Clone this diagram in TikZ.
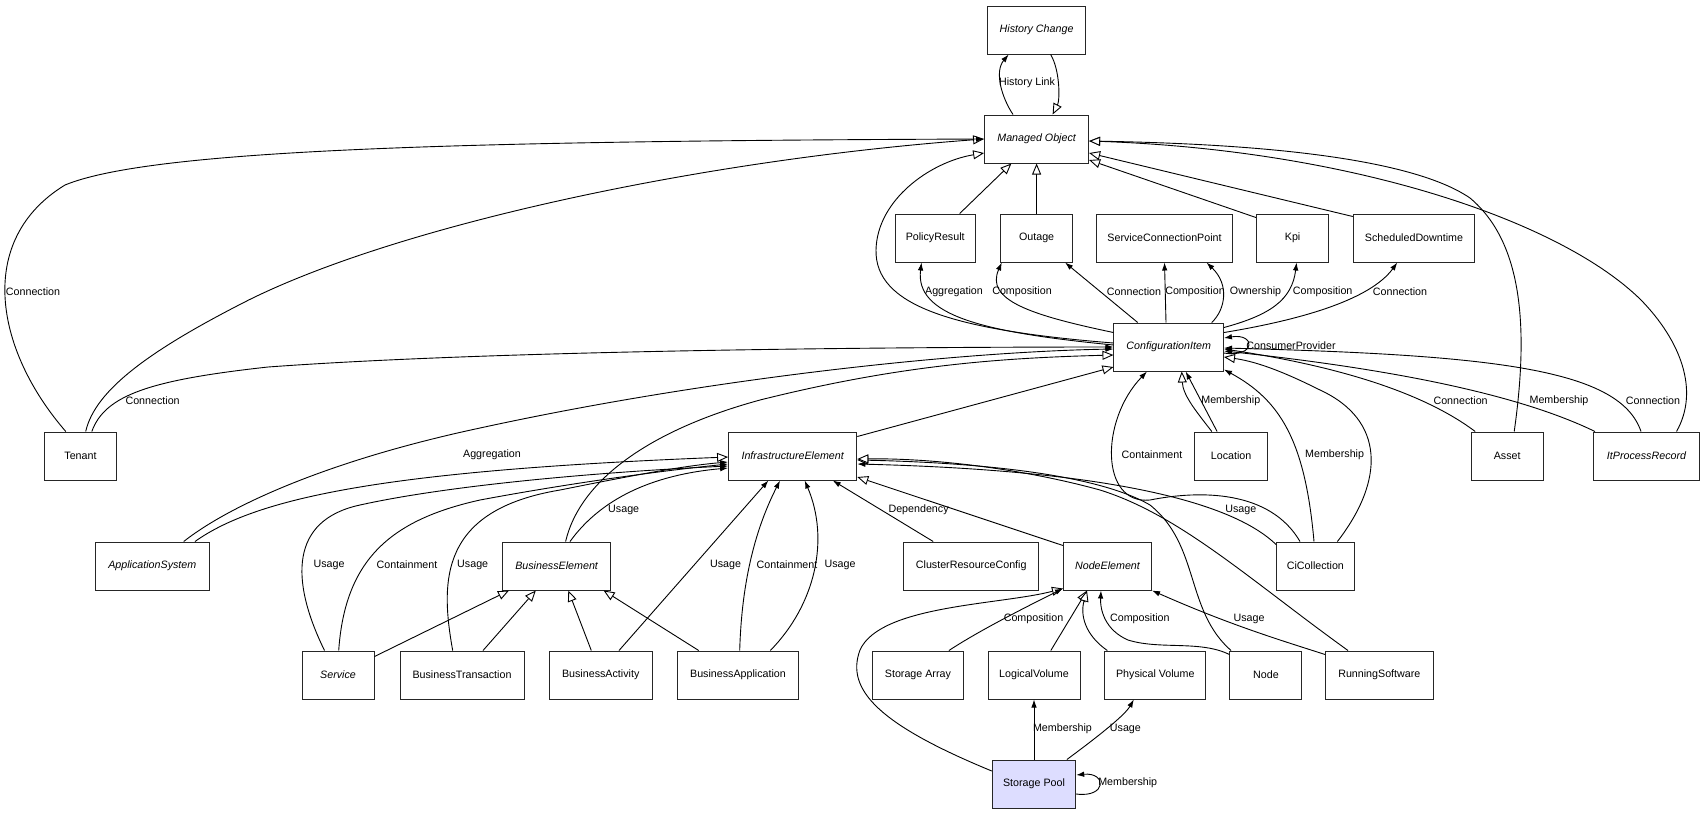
\documentclass[tikz,border=0pt]{standalone}
\usepackage{fontspec}
\setmainfont{Liberation Sans}
\usetikzlibrary{arrows.meta}
\definecolor{poolfill}{RGB}{221,221,255}
\newcommand{\taille}{\fontsize{10.7}{12.8}\selectfont}

\begin{document}
\begin{tikzpicture}[x=1pt, y=-1pt,
  classe/.style={draw=black!85, line width=1pt, minimum height=48pt, inner sep=0pt, font=\taille, fill=white},
  abstraite/.style={classe, font=\taille\itshape},
  lien/.style={line width=0.9pt, -{Latex[length=8pt, width=5.5pt]}},
  herit/.style={line width=0.9pt, -{Triangle[length=11pt, width=9pt, fill=white]}},
  etiq/.style={font=\taille, inner sep=0pt}]

  % Cadre
  \fill[white] (0,0) rectangle (1704,815);
  \useasboundingbox (0,0) rectangle (1704,815);

  % Classes du haut
  \node[abstraite, minimum width=98.7pt] (hc) at (1036.6,30) {History Change};
  \node[abstraite, minimum width=104pt] (mo) at (1036.6,139) {Managed Object};
  \node[classe, minimum width=80.4pt] (pr) at (935.2,238) {PolicyResult};
  \node[classe, minimum width=72pt] (out) at (1036.6,238) {Outage};
  \node[classe, minimum width=136.4pt] (scp) at (1164.5,238) {ServiceConnectionPoint};
  \node[classe, minimum width=72.4pt] (kpi) at (1292.6,238) {Kpi};
  \node[classe, minimum width=121.5pt] (sd) at (1414,238) {ScheduledDowntime};
  \node[abstraite, minimum width=109.5pt] (ci) at (1168.7,347) {ConfigurationItem};

  % Classes du milieu
  \node[classe, minimum width=72.3pt] (tenant) at (80.5,456) {Tenant};
  \node[abstraite, minimum width=128.2pt] (ie) at (792.7,456) {InfrastructureElement};
  \node[classe, minimum width=72.4pt] (loc) at (1231.1,456) {Location};
  \node[classe, minimum width=72.1pt] (asset) at (1507.2,456) {Asset};
  \node[abstraite, minimum width=106pt] (itpr) at (1646.5,456) {ItProcessRecord};
  \node[abstraite, minimum width=114pt] (as) at (152.3,566) {ApplicationSystem};
  \node[abstraite, minimum width=108.2pt] (be) at (556.6,566) {BusinessElement};
  \node[classe, minimum width=135.5pt] (crc) at (971.2,566) {ClusterResourceConfig};
  \node[abstraite, minimum width=88.1pt] (ne) at (1107.5,566) {NodeElement};
  \node[classe, minimum width=77.7pt] (cic) at (1315.4,566) {CiCollection};

  % Classes du bas
  \node[abstraite, minimum width=72pt] (svc) at (338,675) {Service};
  \node[classe, minimum width=124pt] (bt) at (462,675) {BusinessTransaction};
  \node[classe, minimum width=103.4pt] (ba) at (600.7,675) {BusinessActivity};
  \node[classe, minimum width=120.5pt] (bapp) at (738,675) {BusinessApplication};
  \node[classe, minimum width=90.7pt] (sa) at (917.9,675) {Storage Array};
  \node[classe, minimum width=92pt] (lv) at (1034,675) {LogicalVolume};
  \node[classe, minimum width=101pt] (pv) at (1155.3,675) {Physical Volume};
  \node[classe, minimum width=72pt] (node) at (1265.9,675) {Node};
  \node[classe, minimum width=107.4pt] (rs) at (1379.3,675) {RunningSoftware};
  \node[classe, minimum width=83.4pt, fill=poolfill] (sp) at (1034,784) {Storage Pool};

  % Héritage vers Managed Object
  \draw[herit] ([xshift=14pt]hc.south) .. controls (1060,70) and (1060,100) .. ([xshift=16pt]mo.north);
  \draw[herit] ([xshift=5.2pt]tenant.north) .. controls (95,390) and (150,350) .. (248.7,300)
    .. controls (400,225) and (700,160) .. (mo.west);
  \draw[herit] ([yshift=4pt]ci.west) .. controls (950,330) and (875,305) .. (876,250)
    .. controls (877,200) and (930,162) .. ([yshift=-14pt]mo.west);
  \draw[herit] ([xshift=24.5pt]pr.north) -- ([xshift=-25.2pt]mo.south);
  \draw[herit] (out.north) -- (mo.south);
  \draw[herit] ([yshift=-4pt]kpi.north west) -- ([yshift=-21pt]mo.east);
  \draw[herit] ([yshift=-3pt]sd.north west) -- ([yshift=-14pt]mo.east);
  \draw[herit] ([xshift=7pt]asset.north) .. controls (1530,320) and (1520,240) .. (1470,198)
    .. controls (1400,150) and (1200,143) .. ([yshift=-2pt]mo.east);
  \draw[herit] ([xshift=30pt]itpr.north) .. controls (1700,390) and (1680,340) .. (1641,300)
    .. controls (1560,220) and (1350,150) .. ([yshift=-2pt]mo.east);

  % Héritage vers ConfigurationItem
  \draw[herit] ([xshift=9pt]be.north) .. controls (580,480) and (650,430) .. (760,400)
    .. controls (900,365) and (1000,358) .. ([yshift=-8pt]ci.west);
  \draw[herit] ([yshift=-5pt]ie.north east) -- ([yshift=-20pt]ci.west);
  \draw[herit] ([xshift=-19.3pt]loc.north) .. controls (1195,410) and (1183,395) .. ([xshift=13pt]ci.south);
  \draw[herit] ([xshift=22pt]cic.north) .. controls (1385,480) and (1385,420) .. (1320,390)
    .. controls (1290,375) and (1260,362) .. ([yshift=-10pt]ci.east);

  % Héritage vers InfrastructureElement
  \draw[herit] ([xshift=42.7pt]as.north) .. controls (260,495) and (400,470) .. ([yshift=-1pt]ie.west);
  \draw[herit] ([yshift=-4pt]ne.north west) -- ([yshift=-21pt]ie.east);
  \draw[herit] ([xshift=-34.9pt]node.north) .. controls (1185,610) and (1200,545) .. (1150,505)
    .. controls (1090,470) and (950,462) .. ([yshift=-4pt]ie.east);
  \draw[herit] ([xshift=-31.3pt]rs.north) .. controls (1250,580) and (1180,515) .. (1100,490)
    .. controls (1020,468) and (930,458) .. ([yshift=-3pt]ie.east);

  % Héritage vers BusinessElement et NodeElement
  \draw[herit] ([yshift=-6pt]svc.north east) -- ([xshift=-47.6pt]be.south);
  \draw[herit] ([xshift=21pt]bt.north) -- ([xshift=-20.8pt]be.south);
  \draw[herit] ([xshift=-9.4pt]ba.north) -- ([xshift=11.7pt]be.south);
  \draw[herit] ([xshift=-39.3pt]bapp.north) -- ([xshift=47pt]be.south);
  \draw[herit] ([yshift=13pt]sp.west) .. controls (880,725) and (845,690) .. (860,650)
    .. controls (880,605) and (1000,605) .. ([yshift=2pt]ne.south west);
  \draw[herit] ([xshift=16.8pt]lv.north) -- ([xshift=-20.5pt]ne.south);
  \draw[herit] ([xshift=-48pt]pv.north) .. controls (1085,635) and (1080,615) .. ([xshift=-20.5pt]ne.south);

  % Associations du haut
  \draw[lien] ([xshift=-23.6pt]mo.north) .. controls (1002,98) and (994,72) .. ([xshift=-28pt]hc.south);
  \draw[lien] ([xshift=-14.7pt]tenant.north) .. controls (-5,350) and (-25,240) .. (65,185)
    .. controls (150,150) and (450,141) .. (mo.west);
  \draw[lien] ([xshift=11.3pt]tenant.north) .. controls (105,395) and (150,380) .. (268,367)
    .. controls (500,350) and (900,347) .. (ci.west);
  \draw[lien] ([yshift=2pt]ci.west) .. controls (980,332) and (915,315) .. ([xshift=-13.7pt]pr.south);
  \draw[lien] ([yshift=-10pt]ci.north west) .. controls (1030,315) and (985,300) .. ([xshift=-34.8pt]out.south);
  \draw[lien] ([xshift=-31pt]ci.north) -- ([xshift=28.4pt]out.south);
  \draw[lien] ([xshift=-2.7pt]ci.north) -- (scp.south);
  \draw[lien] ([xshift=43pt]ci.north) .. controls (1225,310) and (1230,285) .. ([xshift=42pt]scp.south);
  \draw[lien] ([yshift=-5pt]ci.north east) .. controls (1270,315) and (1292,300) .. ([xshift=4pt]kpi.south);
  \draw[lien] ([yshift=-10pt]ci.north east) .. controls (1300,320) and (1370,300) .. ([xshift=-16.7pt]sd.south);
  \draw[lien] ([yshift=-6pt]ci.east) .. controls (1256,358) and (1256,333) .. ([yshift=9pt]ci.east);

  % Associations vers ConfigurationItem
  \draw[lien] ([xshift=31.4pt]as.north) .. controls (230,505) and (330,460) .. (480,428)
    .. controls (700,380) and (950,352) .. ([yshift=-2pt]ci.west);
  \draw[lien] ([xshift=-14pt]loc.north) -- ([xshift=17pt]ci.south);
  \draw[lien] ([xshift=-15.4pt]cic.north) .. controls (1270,490) and (1200,490) .. (1150,500)
    .. controls (1100,505) and (1100,420) .. ([xshift=-21.7pt]ci.south);
  \draw[lien] ([xshift=-1.4pt]cic.north) .. controls (1305,440) and (1280,400) .. ([yshift=2pt]ci.south east);
  \draw[lien] ([xshift=-32pt]asset.north) .. controls (1420,390) and (1330,365) .. ([yshift=-2pt]ci.east);
  \draw[lien] ([xshift=-51.5pt]itpr.north) .. controls (1530,400) and (1420,372) .. ([yshift=-4pt]ci.east);
  \draw[lien] ([xshift=-5.5pt]itpr.north) .. controls (1620,370) and (1500,355) .. ([yshift=-1pt]ci.east);

  % Associations vers InfrastructureElement
  \draw[lien] ([xshift=-13.5pt]svc.north) .. controls (290,580) and (290,520) .. (360,505)
    .. controls (450,485) and (600,472) .. ([yshift=-10pt]ie.west);
  \draw[lien] ([xshift=0.7pt]svc.north) .. controls (345,560) and (390,520) .. (480,500)
    .. controls (560,485) and (650,472) .. ([yshift=-8pt]ie.west);
  \draw[lien] ([xshift=-9.3pt]bt.north) .. controls (440,580) and (440,510) .. (560,490)
    .. controls (620,478) and (680,466) .. ([yshift=-6pt]ie.west);
  \draw[lien] ([xshift=13.4pt]be.north) .. controls (600,500) and (650,475) .. ([yshift=-12pt]ie.west);
  \draw[lien] ([xshift=18.3pt]ba.north) -- ([xshift=-24.3pt]ie.south);
  \draw[lien] ([xshift=1.7pt]bapp.north) .. controls (742,570) and (760,520) .. ([xshift=-12.7pt]ie.south);
  \draw[lien] ([xshift=32.3pt]bapp.north) .. controls (815,605) and (830,540) .. ([xshift=12pt]ie.south);
  \draw[lien] ([xshift=-38pt]crc.north) -- ([xshift=40pt]ie.south);
  \draw[lien] ([yshift=-3pt]cic.north west) .. controls (1230,500) and (1100,470) .. ([yshift=-8pt]ie.east);

  % Associations vers NodeElement et Storage Pool
  \draw[lien] ([xshift=31pt]sa.north) .. controls (980,630) and (1030,605) .. ([yshift=2pt]ne.south west);
  \draw[lien] ([yshift=-4pt]node.north west) .. controls (1200,640) and (1160,650) .. (1128,640)
    .. controls (1105,630) and (1100,610) .. ([xshift=-6.5pt]ne.south);
  \draw[lien] ([yshift=-4pt]rs.north west) .. controls (1280,640) and (1230,625) .. (ne.south east);
  \draw[lien] (sp.north) -- (lv.south);
  \draw[lien] ([xshift=32.9pt]sp.north) .. controls (1100,735) and (1125,715) .. ([xshift=-21.5pt]pv.south);
  \draw[lien] ([yshift=-10pt]sp.east) .. controls (1107,798) and (1107,772) .. ([yshift=9pt]sp.east);

  % Etiquettes
  \node[etiq] (lHist) at (1027,83) {History Link};
  \node[etiq] (lTenMo) at (33,292) {Connection};
  \node[etiq] (lTenCi) at (152.6,401) {Connection};
  \node[etiq] (lPol) at (954,292) {Aggregation};
  \node[etiq] (lOutA) at (1022,292) {Composition};
  \node[etiq] (lOutB) at (1134,292) {Connection};
  \node[etiq] (lScpA) at (1195,292) {Composition};
  \node[etiq] (lScpB) at (1255.5,292) {Ownership};
  \node[etiq] (lKpi) at (1322.7,292) {Composition};
  \node[etiq] (lSd) at (1400,292) {Connection};
  \node[etiq] (lSelf) at (1291,346) {ConsumerProvider};
  \node[etiq] (lLoc) at (1230.8,401) {Membership};
  \node[etiq] (lAsset) at (1460.6,401) {Connection};
  \node[etiq] (lItA) at (1559,401) {Membership};
  \node[etiq] (lItB) at (1653,401) {Connection};
  \node[etiq] (lAs) at (492,455) {Aggregation};
  \node[etiq] (lCicA) at (1152,455) {Containment};
  \node[etiq] (lCicB) at (1334.6,455) {Membership};
  \node[etiq] (lBe) at (623.7,510) {Usage};
  \node[etiq] (lCrc) at (918.6,510) {Dependency};
  \node[etiq] (lCicC) at (1240.8,510) {Usage};
  \node[etiq] (lSvcA) at (329,565) {Usage};
  \node[etiq] (lSvcB) at (407,565) {Containment};
  \node[etiq] (lBt) at (472.7,565) {Usage};
  \node[etiq] (lBa) at (725.5,565) {Usage};
  \node[etiq] (lBappA) at (787,565) {Containment};
  \node[etiq] (lBappB) at (840,565) {Usage};
  \node[etiq] (lSa) at (1033.5,619) {Composition};
  \node[etiq] (lNode) at (1139.8,619) {Composition};
  \node[etiq] (lRs) at (1249,619) {Usage};
  \node[etiq] (lSpA) at (1062.5,729) {Membership};
  \node[etiq] (lSpB) at (1125.4,729) {Usage};
  \node[etiq] (lSpC) at (1127.7,783) {Membership};

\end{tikzpicture}
\end{document}
